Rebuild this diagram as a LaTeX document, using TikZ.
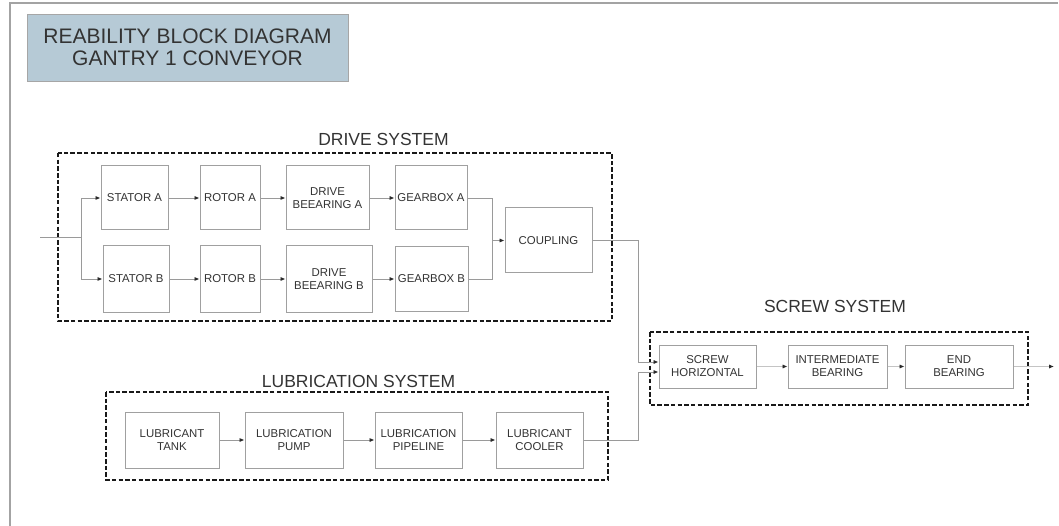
\documentclass[tikz,border=0pt]{standalone}
\usepackage{fontspec}
\setmainfont{Liberation Sans}
\usetikzlibrary{arrows.meta}

\definecolor{framegray}{HTML}{A3A3A3}
\definecolor{boxgray}{HTML}{A0A0A0}
\definecolor{linegray}{HTML}{9A9A9A}
\definecolor{faintgray}{HTML}{C4C4C4}
\definecolor{textgray}{HTML}{333333}
\definecolor{titlefill}{HTML}{B6CAD6}
\definecolor{tipdark}{HTML}{2A2A2A}

\tikzset{
  blk/.style={draw=boxgray, line width=1pt, fill=white, text=textgray,
    align=center, inner sep=1pt, font=\fontsize{11.4}{13}\selectfont},
  subsys/.style={draw=black!90, line width=2.6pt, dash pattern=on 4.5pt off 2.2pt},
  syslabel/.style={text=textgray, font=\fontsize{17.5}{20}\selectfont, inner sep=0pt},
  conn/.style={draw=linegray, line width=0.9pt},
  faintconn/.style={draw=faintgray, line width=0.9pt},
  arr/.style={-{Latex[length=5pt,width=4.2pt,color=tipdark]}},
}

\begin{document}
\begin{tikzpicture}[x=1pt,y=-1pt]
\useasboundingbox (0,0) rectangle (1059,526);

% page frame (top and left edges)
\draw[framegray, line width=2pt] (10,526) -- (10,3) -- (1058,3);

% title block
\node[draw=gray!70, line width=0.6pt, fill=titlefill, text=textgray, align=center,
      minimum width=321pt, minimum height=67pt, inner sep=0pt,
      font=\fontsize{21}{21.5}\selectfont] (title) at (187.5,47.5)
      {REABILITY BLOCK DIAGRAM\\GANTRY 1 CONVEYOR};

% ---------- drive system ----------
\draw[subsys] (58,153) rectangle (612,321);
\node[syslabel] (drivelbl) at (383.5,139.5) {DRIVE SYSTEM};

\node[blk, minimum width=67pt, minimum height=64pt] (statorA) at (134.5,198) {STATOR A};
\node[blk, minimum width=60pt, minimum height=64pt] (rotorA)  at (230,198)   {ROTOR A};
\node[blk, minimum width=83pt, minimum height=64pt] (dbA)     at (327.5,198) {DRIVE\\BEEARING A};
\node[blk, minimum width=72pt, minimum height=64pt] (gbA)     at (431,198)   {GEARBOX A};

\node[blk, minimum width=66pt, minimum height=66pt] (statorB) at (136,279)   {STATOR B};
\node[blk, minimum width=60pt, minimum height=66pt] (rotorB)  at (230,279)   {ROTOR B};
\node[blk, minimum width=86pt, minimum height=66pt] (dbB)     at (329,279)   {DRIVE\\BEEARING B};
\node[blk, minimum width=73pt, minimum height=65pt] (gbB)     at (431.5,279) {GEARBOX B};

\node[blk, minimum width=87pt, minimum height=65pt] (coupling) at (548.5,240.5) {COUPLING};

\coordinate (in)    at (40,237);
\coordinate (split) at (81,237);
\coordinate (merge) at (492,240.5);

\draw[conn] (in) -- (split);
\draw[conn, arr] (split) |- (statorA.west);
\draw[conn, arr] (split) |- (statorB.west);
\draw[conn, arr] (statorA.east) -- (rotorA.west);
\draw[conn, arr] (rotorA.east) -- (dbA.west);
\draw[conn, arr] (dbA.east) -- (gbA.west);
\draw[conn, arr] (statorB.east) -- (rotorB.west);
\draw[conn, arr] (rotorB.east) -- (dbB.west);
\draw[conn, arr] (dbB.east) -- (gbB.west);
\draw[conn] (gbA.east) -| (merge);
\draw[conn] (gbB.east) -| (merge);
\draw[conn, arr] (merge) -- (coupling.west);

% ---------- lubrication system ----------
\draw[subsys] (106,392) rectangle (608,480);
\node[syslabel] (lublbl) at (358.5,381) {LUBRICATION SYSTEM};

\node[blk, minimum width=94pt, minimum height=56pt] (tank)     at (172,440)   {LUBRICANT\\TANK};
\node[blk, minimum width=98pt, minimum height=56pt] (pump)     at (294,440)   {LUBRICATION\\PUMP};
\node[blk, minimum width=87pt, minimum height=56pt] (pipeline) at (418.5,440) {LUBRICATION\\PIPELINE};
\node[blk, minimum width=87pt, minimum height=56pt] (cooler)   at (539.5,440) {LUBRICANT\\COOLER};

\draw[conn, arr] (tank.east) -- (pump.west);
\draw[conn, arr] (pump.east) -- (pipeline.west);
\draw[conn, arr] (pipeline.east) -- (cooler.west);

% ---------- screw system ----------
\draw[subsys] (650,332) rectangle (1028,405);
\node[syslabel] (screwlbl) at (835,306.5) {SCREW SYSTEM};

\node[blk, minimum width=97pt,  minimum height=43pt] (screwH) at (707.5,366.5) {SCREW\\HORIZONTAL};
\node[blk, minimum width=99pt,  minimum height=43pt] (interB) at (837.5,366.5) {INTERMEDIATE\\BEARING};
\node[blk, minimum width=108pt, minimum height=43pt] (endB)   at (959,366.5)   {END\\BEARING};

\coordinate (j1)  at (638,362);
\coordinate (j2)  at (638,372);
\coordinate (out) at (1054,366.5);

\draw[conn, arr] (coupling.east) -| (j1) -- (j1 -| screwH.west);
\draw[conn, arr] (cooler.east) -| (j2) -- (j2 -| screwH.west);
\draw[faintconn, arr] (screwH.east) -- (interB.west);
\draw[faintconn, arr] (interB.east) -- (endB.west);
\draw[faintconn, arr] (endB.east) -- (out);

\end{tikzpicture}
\end{document}
